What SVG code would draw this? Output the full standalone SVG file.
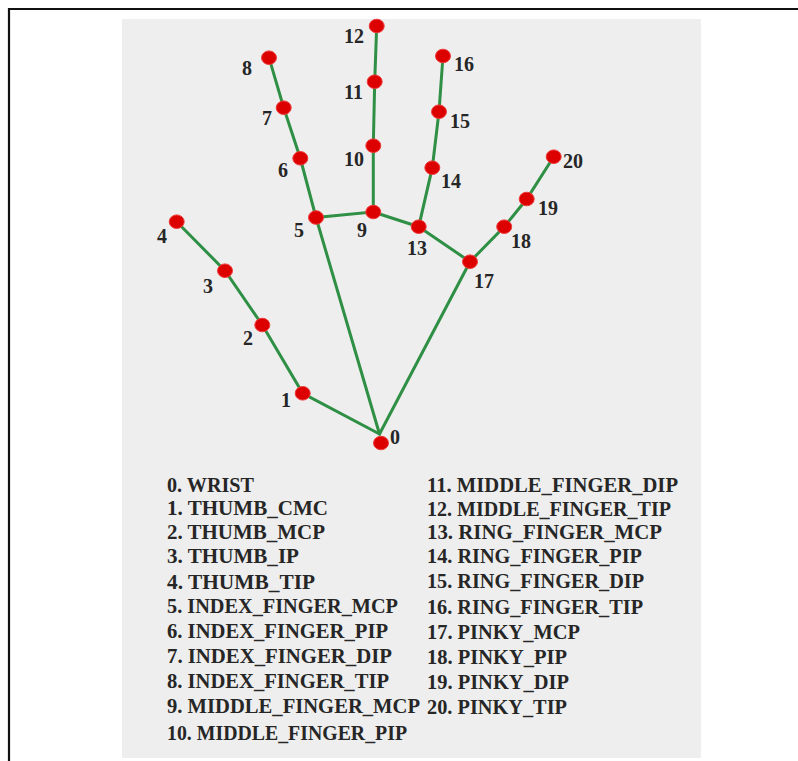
<svg xmlns="http://www.w3.org/2000/svg" width="798" height="761" viewBox="0 0 798 761">
<style>
.edge{stroke:#2e8f45;stroke-width:3;stroke-linecap:round;fill:none}
.dot{fill:#dd0000;stroke:#ee3a3a;stroke-width:1}
.num{font-family:"Liberation Serif","Times New Roman",serif;font-weight:bold;font-size:20px;fill:#262626}
.leg{font-family:"Liberation Serif","Times New Roman",serif;font-weight:bold;font-size:22px;fill:#262626}
</style>
<rect x="0" y="0" width="798" height="761" fill="#ffffff"/>
<path d="M9,761 V9 H798" fill="none" stroke="#111" stroke-width="2.2"/>
<rect x="122" y="19" width="579" height="739" fill="#eeeeee"/>
<g id="connectors">
<polyline class="edge" points="379.5,434 302.7,393.3 262.3,325 225,270.7 176.7,221.7"/>
<polyline class="edge" points="379.5,434 316,217.5 300.3,158.3 283.7,107.7 269,57.7"/>
<polyline class="edge" points="316,217.5 373.3,212 373.3,145.7 374.7,81.7 376.7,26"/>
<polyline class="edge" points="373.3,212 418.7,226.7 432.3,167.7 439,111.7 443,56"/>
<polyline class="edge" points="418.7,226.7 470,261.7 504.2,226.7 526.7,199 553.7,156.7"/>
<line class="edge" x1="379.5" y1="434" x2="470" y2="261.7"/>
</g>
<g id="node0"><ellipse class="dot" cx="381" cy="443" rx="7.5" ry="6.8"/><text class="num" x="390" y="444">0</text></g>
<g id="node1"><ellipse class="dot" cx="302.7" cy="393.3" rx="7.5" ry="6.8"/><text class="num" x="281" y="407">1</text></g>
<g id="node2"><ellipse class="dot" cx="262.3" cy="325" rx="7.5" ry="6.8"/><text class="num" x="243" y="345">2</text></g>
<g id="node3"><ellipse class="dot" cx="225" cy="270.7" rx="7.5" ry="6.8"/><text class="num" x="203" y="293">3</text></g>
<g id="node4"><ellipse class="dot" cx="176.7" cy="221.7" rx="7.5" ry="6.8"/><text class="num" x="157" y="243">4</text></g>
<g id="node5"><ellipse class="dot" cx="316" cy="217.5" rx="7.5" ry="6.8"/><text class="num" x="294" y="237">5</text></g>
<g id="node6"><ellipse class="dot" cx="300.3" cy="158.3" rx="7.5" ry="6.8"/><text class="num" x="278" y="177">6</text></g>
<g id="node7"><ellipse class="dot" cx="283.7" cy="107.7" rx="7.5" ry="6.8"/><text class="num" x="262" y="125">7</text></g>
<g id="node8"><ellipse class="dot" cx="269" cy="57.7" rx="7.5" ry="6.8"/><text class="num" x="242" y="75">8</text></g>
<g id="node9"><ellipse class="dot" cx="373.3" cy="212" rx="7.5" ry="6.8"/><text class="num" x="357" y="237">9</text></g>
<g id="node10"><ellipse class="dot" cx="373.3" cy="145.7" rx="7.5" ry="6.8"/><text class="num" x="344" y="166">10</text></g>
<g id="node11"><ellipse class="dot" cx="374.7" cy="81.7" rx="7.5" ry="6.8"/><text class="num" x="344" y="99">11</text></g>
<g id="node12"><ellipse class="dot" cx="376.7" cy="26" rx="7.5" ry="6.8"/><text class="num" x="344" y="43">12</text></g>
<g id="node13"><ellipse class="dot" cx="418.7" cy="226.7" rx="7.5" ry="6.8"/><text class="num" x="407" y="255">13</text></g>
<g id="node14"><ellipse class="dot" cx="432.3" cy="167.7" rx="7.5" ry="6.8"/><text class="num" x="441" y="188">14</text></g>
<g id="node15"><ellipse class="dot" cx="439" cy="111.7" rx="7.5" ry="6.8"/><text class="num" x="450" y="128">15</text></g>
<g id="node16"><ellipse class="dot" cx="443" cy="56" rx="7.5" ry="6.8"/><text class="num" x="454" y="71">16</text></g>
<g id="node17"><ellipse class="dot" cx="470" cy="261.7" rx="7.5" ry="6.8"/><text class="num" x="474" y="288">17</text></g>
<g id="node18"><ellipse class="dot" cx="504.2" cy="226.7" rx="7.5" ry="6.8"/><text class="num" x="511" y="248">18</text></g>
<g id="node19"><ellipse class="dot" cx="526.7" cy="199" rx="7.5" ry="6.8"/><text class="num" x="538" y="215">19</text></g>
<g id="node20"><ellipse class="dot" cx="553.7" cy="156.7" rx="7.5" ry="6.8"/><text class="num" x="563" y="168">20</text></g>
<g id="legend">
<text class="leg" x="167" y="492" textLength="87" lengthAdjust="spacingAndGlyphs">0. WRIST</text>
<text class="leg" x="167" y="515" textLength="161" lengthAdjust="spacingAndGlyphs">1. THUMB_CMC</text>
<text class="leg" x="167" y="539" textLength="158" lengthAdjust="spacingAndGlyphs">2. THUMB_MCP</text>
<text class="leg" x="167" y="563" textLength="132" lengthAdjust="spacingAndGlyphs">3. THUMB_IP</text>
<text class="leg" x="167" y="589" textLength="148" lengthAdjust="spacingAndGlyphs">4. THUMB_TIP</text>
<text class="leg" x="167" y="613" textLength="231" lengthAdjust="spacingAndGlyphs">5. INDEX_FINGER_MCP</text>
<text class="leg" x="167" y="638" textLength="221" lengthAdjust="spacingAndGlyphs">6. INDEX_FINGER_PIP</text>
<text class="leg" x="167" y="663" textLength="225" lengthAdjust="spacingAndGlyphs">7. INDEX_FINGER_DIP</text>
<text class="leg" x="167" y="688" textLength="222" lengthAdjust="spacingAndGlyphs">8. INDEX_FINGER_TIP</text>
<text class="leg" x="167" y="713" textLength="253" lengthAdjust="spacingAndGlyphs">9. MIDDLE_FINGER_MCP</text>
<text class="leg" x="167" y="740" textLength="240" lengthAdjust="spacingAndGlyphs">10. MIDDLE_FINGER_PIP</text>
<text class="leg" x="427" y="492" textLength="251" lengthAdjust="spacingAndGlyphs">11. MIDDLE_FINGER_DIP</text>
<text class="leg" x="427" y="515.5" textLength="244" lengthAdjust="spacingAndGlyphs">12. MIDDLE_FINGER_TIP</text>
<text class="leg" x="427" y="539" textLength="235" lengthAdjust="spacingAndGlyphs">13. RING_FINGER_MCP</text>
<text class="leg" x="427" y="563" textLength="215" lengthAdjust="spacingAndGlyphs">14. RING_FINGER_PIP</text>
<text class="leg" x="427" y="588" textLength="217" lengthAdjust="spacingAndGlyphs">15. RING_FINGER_DIP</text>
<text class="leg" x="427" y="614" textLength="216" lengthAdjust="spacingAndGlyphs">16. RING_FINGER_TIP</text>
<text class="leg" x="427" y="639" textLength="153" lengthAdjust="spacingAndGlyphs">17. PINKY_MCP</text>
<text class="leg" x="427" y="664" textLength="140" lengthAdjust="spacingAndGlyphs">18. PINKY_PIP</text>
<text class="leg" x="427" y="689" textLength="142" lengthAdjust="spacingAndGlyphs">19. PINKY_DIP</text>
<text class="leg" x="427" y="714" textLength="140" lengthAdjust="spacingAndGlyphs">20. PINKY_TIP</text>
</g>
</svg>
